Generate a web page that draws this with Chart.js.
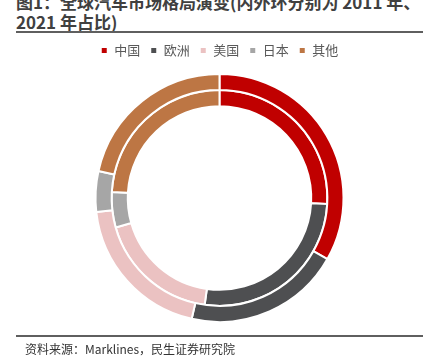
<!DOCTYPE html>
<html>
<head>
<meta charset="utf-8">
<script src="https://cdn.jsdelivr.net/npm/chart.js@4"></script>
<style>
  body { margin: 0; width: 430px; height: 359px; background: #fff; position: relative; overflow: hidden;
         font-family: "Noto Sans CJK SC", "Noto Sans", sans-serif; }
  #title { position: absolute; left: 16px; top: -8px; width: 414px; font-size: 17px; font-weight: bold;
           line-height: 20px; color: #404040; white-space: nowrap; }
  #topLine { position: absolute; left: 16px; top: 31px; width: 407px; height: 2px; background: #5f5f5f; }
  #bottomLine { position: absolute; left: 16px; top: 335px; width: 407px; height: 2px; background: #5f5f5f; }
  #source { position: absolute; left: 25px; top: 340px; font-size: 12px; color: #333; }
  #wrap { position: absolute; left: 0; top: 0; width: 430px; height: 359px; }
</style>
</head>
<body>
<div id="title">图1：全球汽车市场格局演变(内外环分别为 2011 年、<br>2021 年占比)</div>
<div id="topLine"></div>
<div id="wrap"><canvas id="ringChart"></canvas></div>
<div id="bottomLine"></div>
<div id="source">资料来源：Marklines，民生证券研究院</div>
<script>
// Regions
const regions = ['中国', '欧洲', '美国', '日本', '其他'];
// Share of global car market (%), outer ring = 2021, inner ring = 2011
const share2021 = [33.2, 20.4, 19.6, 5.3, 21.5];
const share2011 = [25.9, 26.3, 18.4, 5.3, 24.1];
const colors = ['#c00000', '#4e4f51', '#ebc2c2', '#a6a6a6', '#bd7644'];

// a little extra room under the legend
const legendGap = {
  id: 'legendGap',
  beforeInit(chart) {
    const fit = chart.legend.fit;
    chart.legend.fit = function () {
      fit.bind(chart.legend)();
      this.height += 6;
    };
  }
};

const ringCanvas = document.getElementById('ringChart');

const ringChart = new Chart(ringCanvas, {
  type: 'doughnut',
  data: {
    labels: regions,
    datasets: [
      { label: '2021', data: share2021, backgroundColor: colors, borderColor: '#fff', borderWidth: 2 },
      { label: '2011', data: share2011, backgroundColor: colors, borderColor: '#fff', borderWidth: 2 }
    ]
  },
  options: {
    responsive: true,
    maintainAspectRatio: false,
    animation: false,
    cutout: '74%',
    layout: { padding: { top: 34, left: 9, right: 0, bottom: 36 } },
    plugins: {
      tooltip: { enabled: false },
      legend: {
        position: 'top',
        labels: {
          boxWidth: 7,
          boxHeight: 7,
          padding: 10,
          color: '#595959',
          font: { size: 13, family: '"Noto Sans CJK SC", sans-serif' }
        }
      }
    }
  },
  plugins: [legendGap]
});
</script>
</body>
</html>
